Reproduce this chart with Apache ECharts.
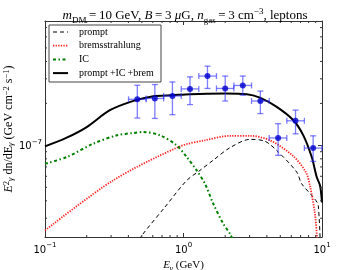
<!DOCTYPE html>
<html><head><meta charset="utf-8">
<script src="https://cdn.jsdelivr.net/npm/echarts@6/dist/echarts.min.js"></script>
<style>html,body{margin:0;padding:0;background:#fff}#c{width:358px;height:270px}</style>
</head><body><div id="c"></div>
<script>
// ---- data ----
const xMin = 0.1, xMax = 10;
const yMin = 2.2e-8, yMax = 7.8e-7;
const xMinorTicks = [0.2,0.3,0.4,0.5,0.6,0.7,0.8,0.9,2,3,4,5,6,7,8,9];
const yMinorTicks = [3e-8,4e-8,5e-8,6e-8,7e-8,8e-8,9e-8,2e-7,3e-7,4e-7,5e-7,6e-7,7e-7];

const ptE   = [0.464,0.621,0.832,1.114,1.49,2.0,2.68,3.59,4.82,6.44,8.63];
const ptY   = [2.14e-7,2.17e-7,2.26e-7,2.54e-7,3.14e-7,2.56e-7,2.69e-7,2.08e-7,1.13e-7,1.50e-7,9.56e-8];
const ptXlo = [0.401,0.537,0.719,0.963,1.29,1.73,2.31,3.10,4.16,5.57,7.46];
const ptXhi = [0.537,0.719,0.963,1.29,1.73,2.31,3.10,4.16,5.57,7.46,9.98];
const ptYlo = [1.57e-7,1.56e-7,1.66e-7,1.96e-7,2.56e-7,2.08e-7,2.29e-7,1.69e-7,8.48e-8,1.21e-7,7.67e-8];
const ptYhi = [2.70e-7,2.73e-7,2.85e-7,3.10e-7,3.70e-7,3.14e-7,3.14e-7,2.45e-7,1.43e-7,1.79e-7,1.17e-7];

const totalE = [0.1,0.1435,0.2,0.294,0.435,0.605,0.826,1.114,2.0,2.86,3.56,4.71,6.21,7.33,8.43,9.16,9.68,10.0];
const totalV = [9.83e-8,1.135e-7,1.352e-7,1.786e-7,2.085e-7,2.254e-7,2.29e-7,2.33e-7,2.35e-7,2.33e-7,2.20e-7,1.888e-7,1.514e-7,1.18e-7,8.24e-8,5.92e-8,5.15e-8,3.89e-8];

const bremE = [0.1,0.31,0.943,1.43,2.17,3.02,4.21,6.18,7.66,8.18,8.89,9.2,9.4];
const bremV = [2.45e-8,5.6e-8,9.83e-8,1.087e-7,1.17e-7,1.17e-7,1.087e-7,8.4e-8,6.4e-8,5.15e-8,3.24e-8,2.18e-8,1.5e-8];

const promptE = [0.45,0.499,0.735,1.055,1.315,1.633,2.17,3.02,3.88,4.84,6.57,7.13,8.65,9.4,9.9];
const promptV = [1.9e-8,2.25e-8,3.61e-8,5.6e-8,6.61e-8,7.8e-8,9.63e-8,1.104e-7,1.069e-7,8.95e-8,6.43e-8,5.3e-8,4.25e-8,3.7e-8,1.0e-8];

const icE = [0.1,0.1435,0.2234,0.3297,0.434,0.513,0.6765,0.893,1.055,1.245,1.429,1.641,1.937,2.167,2.28];
const icV = [7.38e-8,8.24e-8,1.028e-7,1.18e-7,1.226e-7,1.247e-7,1.18e-7,1.0e-7,8.24e-8,6.61e-8,5.3e-8,3.81e-8,2.74e-8,2.32e-8,2.07e-8];

const legendNames = ['prompt','bremsstrahlung','IC','prompt\u2009+IC\u2009+brem'];

// ---- styles ----
const AX = '#333';
const zip = (a,b) => a.map((v,i)=>[v,b[i]]);
const isPow10 = v => Math.abs(Math.log10(v) - Math.round(Math.log10(v))) < 1e-6;
const tickRich = {
  b:{fontFamily:'DejaVu Sans',fontSize:10,color:'#000',lineHeight:13,verticalAlign:'bottom'},
  s:{fontFamily:'DejaVu Sans',fontSize:7,color:'#000',lineHeight:13,verticalAlign:'top'}
};
const fmt = v => isPow10(v) ? '{b|10}{s|' + String(Math.round(Math.log10(v))).replace('-','\u2212') + '}' : '';

const styleDash = {color:'#000',width:1,type:[4,3]};
const styleBrem = {color:'#ff2020',width:1.8,type:[1.3,1.3]};
const styleIC   = {color:'#008000',width:2,type:[3,2.5,1.5,2.5]};
const styleTot  = {color:'#000',width:2,type:'solid'};
const legendStyles = [styleDash, styleBrem, styleIC, styleTot];

const chart = echarts.init(document.getElementById('c'), null, {renderer:'canvas'});

function minorX(params, api){
  const v = api.value(0);
  const b = api.coord([v, yMin]); const t = api.coord([v, yMax]);
  return {type:'group', children:[
    {type:'line', shape:{x1:b[0],y1:b[1],x2:b[0],y2:b[1]-2}, style:{stroke:AX,lineWidth:1}},
    {type:'line', shape:{x1:t[0],y1:t[1],x2:t[0],y2:t[1]+2}, style:{stroke:AX,lineWidth:1}}
  ]};
}
function minorY(params, api){
  const v = api.value(1);
  const l = api.coord([xMin, v]); const r = api.coord([xMax, v]);
  return {type:'group', children:[
    {type:'line', shape:{x1:l[0],y1:l[1],x2:l[0]+2,y2:l[1]}, style:{stroke:AX,lineWidth:1}},
    {type:'line', shape:{x1:r[0],y1:r[1],x2:r[0]-2,y2:r[1]}, style:{stroke:AX,lineWidth:1}}
  ]};
}
function errBars(params, api){
  const x = api.value(0), y = api.value(1);
  const c = api.coord([x,y]);
  const l = api.coord([api.value(2),y]), r = api.coord([api.value(3),y]);
  const lo = api.coord([x,api.value(4)]), hi = api.coord([x,api.value(5)]);
  const st = {stroke:'rgba(40,40,255,0.6)', lineWidth:1.3};
  const cap = 3;
  return {type:'group', children:[
    {type:'line', shape:{x1:l[0],y1:c[1],x2:r[0],y2:c[1]}, style:st},
    {type:'line', shape:{x1:c[0],y1:lo[1],x2:c[0],y2:hi[1]}, style:st},
    {type:'line', shape:{x1:c[0]-cap,y1:lo[1],x2:c[0]+cap,y2:lo[1]}, style:st},
    {type:'line', shape:{x1:c[0]-cap,y1:hi[1],x2:c[0]+cap,y2:hi[1]}, style:st},
    {type:'line', shape:{x1:l[0],y1:c[1]-cap,x2:l[0],y2:c[1]+cap}, style:st},
    {type:'line', shape:{x1:r[0],y1:c[1]-cap,x2:r[0],y2:c[1]+cap}, style:st}
  ]};
}

const labRich = {
  n:{fontFamily:'Liberation Serif',fontSize:12,color:'#000',lineHeight:13,verticalAlign:'middle'},
  i:{fontFamily:'Liberation Serif',fontStyle:'italic',fontSize:12,color:'#000',lineHeight:13,verticalAlign:'middle'},
  sub:{fontFamily:'Liberation Serif',fontStyle:'italic',fontSize:8.5,color:'#000',lineHeight:13,verticalAlign:'bottom'},
  sup:{fontFamily:'Liberation Serif',fontSize:8.5,color:'#000',lineHeight:13,verticalAlign:'top'}
};

// legend graphics
const LX = 49, LY = 25, LW = 112, LH = 57;
const legendG = [{type:'rect', shape:{x:LX,y:LY,width:LW,height:LH}, style:{fill:'#fff',stroke:'#444',lineWidth:1}, z:100}];
legendNames.forEach((n,i)=>{
  const yy = 32 + i*13.7;
  const s = legendStyles[i];
  legendG.push({type:'line', shape:{x1:53,y1:yy,x2:68,y2:yy}, style:{stroke:s.color,lineWidth:s.width,lineDash:s.type==='solid'?null:s.type}, z:101});
  legendG.push({type:'text', x:79, y:yy, style:{text:n, fill:'#000', font:'10px "Liberation Serif"', textVerticalAlign:'middle'}, z:101});
});
// y-axis title
legendG.push({type:'text', x:9, y:129, rotation:Math.PI/2,
  style:{text:'{i|E}{sup|2}{sub|\u03b3}{n| dn/dE}{sub|\u03b3}{n| (GeV cm}{sup|\u22122}{n| s}{sup|\u22121}{n|)}',
         rich:labRich, align:'center', verticalAlign:'middle'}, z:50});

const serifRich = {
  n:{fontFamily:'Liberation Serif',fontWeight:'normal',fontSize:13,color:'#000',lineHeight:18,verticalAlign:'middle'},
  i:{fontFamily:'Liberation Serif',fontWeight:'normal',fontStyle:'italic',fontSize:13,color:'#000',lineHeight:18,verticalAlign:'middle'},
  sub:{fontFamily:'Liberation Serif',fontWeight:'normal',fontSize:9,color:'#000',lineHeight:18,verticalAlign:'bottom'},
  sup:{fontFamily:'Liberation Serif',fontWeight:'normal',fontSize:9,color:'#000',lineHeight:18,verticalAlign:'top'}
};

const option = {
  animation:false,
  backgroundColor:'#fff',
  title:{
    text:'{i|m}{sub|DM}{n|\u2009=\u200910 GeV, }{i|B}{n|\u2009=\u20093 }{i|\u03bc}{n|G, }{i|n}{sub|gas}{n|\u2009=\u20093 cm}{sup|\u22123}{n|, leptons}',
    left:180, top:2, textAlign:'center',
    textStyle:{rich:serifRich, fontSize:13, fontWeight:'normal'}
  },
  grid:{left:45, right:36, top:21, bottom:33, containLabel:false, outerBoundsMode:'none'},
  xAxis:[
    {type:'log', logBase:10, min:xMin, max:xMax, position:'bottom',
     axisLine:{lineStyle:{color:AX,width:1}},
     axisTick:{inside:true,length:4,lineStyle:{color:AX}},
     axisLabel:{formatter:fmt, rich:tickRich, margin:5, showMinLabel:true, showMaxLabel:true},
     splitLine:{show:false},
     name:'{i|E}{sub|\u03b3}{n| (GeV)}', nameLocation:'middle', nameGap:21,
     nameTextStyle:{rich:{
       n:{fontFamily:'Liberation Serif',fontSize:11,color:'#000',lineHeight:14,verticalAlign:'middle'},
       i:{fontFamily:'Liberation Serif',fontStyle:'italic',fontSize:11,color:'#000',lineHeight:14,verticalAlign:'middle'},
       sub:{fontFamily:'Liberation Serif',fontStyle:'italic',fontSize:8,color:'#000',lineHeight:14,verticalAlign:'bottom'}}}},
    {type:'log', logBase:10, min:xMin, max:xMax, position:'top',
     axisLine:{lineStyle:{color:AX,width:1}},
     axisTick:{inside:true,length:4,lineStyle:{color:AX}},
     axisLabel:{show:false}, splitLine:{show:false}}
  ],
  yAxis:[
    {type:'log', logBase:10, min:yMin, max:yMax, position:'left',
     axisLine:{lineStyle:{color:AX,width:1}},
     axisTick:{inside:true,length:4,lineStyle:{color:AX}},
     axisLabel:{formatter:fmt, rich:tickRich, margin:3},
     splitLine:{show:false}},
    {type:'log', logBase:10, min:yMin, max:yMax, position:'right',
     axisLine:{lineStyle:{color:AX,width:1}},
     axisTick:{inside:true,length:4,lineStyle:{color:AX}},
     axisLabel:{show:false}, splitLine:{show:false}}
  ],
  graphic: legendG,
  series:[
    {type:'custom', name:'minorX', renderItem:minorX, data:xMinorTicks.map(v=>[v,yMin]), clip:false, silent:true, z:5},
    {type:'custom', name:'minorY', renderItem:minorY, data:yMinorTicks.map(v=>[xMin,v]), clip:false, silent:true, z:5},
    {type:'line', name:legendNames[0], data:zip(promptE,promptV), showSymbol:false, smooth:0.3, clip:true,
     lineStyle:styleDash, z:3},
    {type:'line', name:legendNames[1], data:zip(bremE,bremV), showSymbol:false, smooth:0.3, clip:true,
     lineStyle:styleBrem, z:3},
    {type:'line', name:legendNames[2], data:zip(icE,icV), showSymbol:false, smooth:0.3, clip:true,
     lineStyle:styleIC, z:3},
    {type:'line', name:legendNames[3], data:zip(totalE,totalV), showSymbol:false, smooth:0.3, clip:true,
     lineStyle:styleTot, z:4},
    {type:'custom', name:'errors', renderItem:errBars, clip:false, z:6,
     encode:{x:[0,2,3], y:[1,4,5]},
     data: ptE.map((e,i)=>[e, ptY[i], ptXlo[i], ptXhi[i], ptYlo[i], ptYhi[i]])},
    {type:'scatter', name:'data', data:zip(ptE,ptY), symbol:'circle', symbolSize:6,
     itemStyle:{color:'#0000cc'}, z:7}
  ]
};
chart.setOption(option);
</script></body></html>
